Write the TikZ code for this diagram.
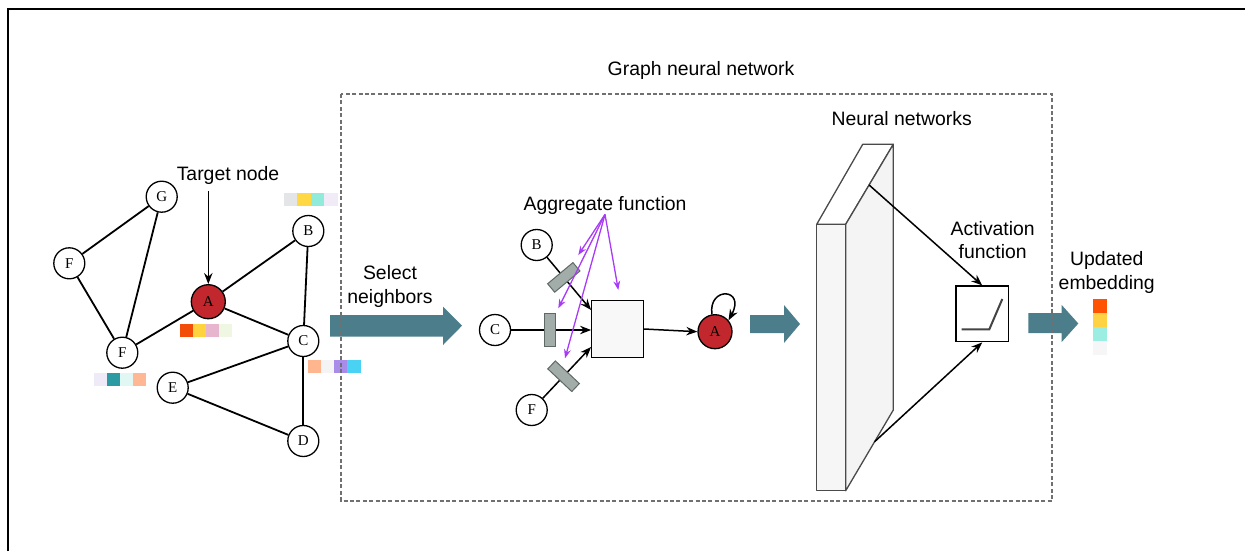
\documentclass[tikz,border=0pt]{standalone}
\usepackage{fontspec}
\setmainfont{Liberation Sans}
\newfontfamily\letterfont{Liberation Serif}
\usetikzlibrary{arrows.meta,calc}

\definecolor{nodered}{HTML}{C1272D}
\definecolor{arrowteal}{HTML}{4B7D8B}
\definecolor{weightfill}{HTML}{A2ACA8}
\definecolor{weightedge}{HTML}{5F6A66}
\definecolor{aggviolet}{HTML}{A83BF5}
\definecolor{boxfill}{HTML}{F8F8F8}
\definecolor{slabedge}{HTML}{4A4A4A}
\definecolor{slabfront}{HTML}{F6F6F6}
\definecolor{slabside}{HTML}{F4F4F4}
\definecolor{dashgray}{HTML}{707070}
\definecolor{rampgray}{HTML}{444444}
% feature cells
\definecolor{ca1}{HTML}{F24E0A}\definecolor{ca2}{HTML}{FFD33D}\definecolor{ca3}{HTML}{E8B5CE}\definecolor{ca4}{HTML}{EFF7E3}
\definecolor{cb1}{HTML}{E3E5E6}\definecolor{cb2}{HTML}{FFD844}\definecolor{cb3}{HTML}{90EBDA}\definecolor{cb4}{HTML}{F1EBF8}
\definecolor{cf1}{HTML}{EFEAF8}\definecolor{cf2}{HTML}{2C9AA3}\definecolor{cf3}{HTML}{E0F7F4}\definecolor{cf4}{HTML}{FFB893}
\definecolor{cc1}{HTML}{FFB68E}\definecolor{cc2}{HTML}{F4F4F4}\definecolor{cc3}{HTML}{A98CE9}\definecolor{cc4}{HTML}{4AD2F4}
\definecolor{ce1}{HTML}{FF5202}\definecolor{ce2}{HTML}{FFD244}\definecolor{ce3}{HTML}{9DEEE2}\definecolor{ce4}{HTML}{F6F6F6}

\begin{document}
\begin{tikzpicture}[x=0.5pt,y=-0.5pt,
  lbl/.style={font=\fontsize{9.7}{11.8}\selectfont, align=center, inner sep=0pt},
  gnode/.style={circle, draw=black, line width=0.65pt, fill=white, minimum size=15.5pt,
    inner sep=0pt, font=\letterfont\fontsize{7.5}{8}\selectfont},
  target/.style={gnode, fill=nodered, minimum size=17pt},
  link/.style={line width=0.9pt},
  arr/.style={line width=0.75pt, -{Stealth[length=5.5pt,width=4.2pt]}},
  purp/.style={draw=aggviolet, line width=0.65pt, -{Stealth[length=4.5pt,width=3.4pt]}},
  weight/.style={rectangle, draw=weightedge, fill=weightfill, line width=0.5pt,
    minimum width=5.5pt, minimum height=16.5pt, inner sep=0pt, sloped},
  slab/.style={draw=slabedge, line width=0.65pt, line join=round},
  bigarrow/.style={fill=arrowteal},
]
\useasboundingbox (0,0) rectangle (1245,551);

% outer frame (open on the right and bottom)
\draw[line width=1.15pt] (7.7,551) -- (7.7,9.2) -- (1245,9.2);

% ---------- input graph ----------
\node[gnode]  (G)  at (161.7,196.7) {G};
\node[gnode]  (F1) at (69.3,263.3)  {F};
\node[gnode]  (F2) at (122.3,352.7) {F};
\node[target] (A)  at (208.3,301.7) {A};
\node[gnode]  (B)  at (308.3,231)   {B};
\node[gnode]  (C)  at (303.3,341)   {C};
\node[gnode]  (E)  at (172.7,387.7) {E};
\node[gnode]  (D)  at (303.3,441)   {D};

\draw[link] (G) -- (F1);
\draw[link] (G) -- (F2);
\draw[link] (F1) -- (F2);
\draw[link] (F2) -- (A);
\draw[link] (A) -- (B);
\draw[link] (A) -- (C);
\draw[link] (B) -- (C);
\draw[link] (C) -- (E);
\draw[link] (E) -- (D);
\draw[link] (C) -- (D);

\node[lbl] (tn) at (228,175) {Target node};
\coordinate (tgt) at (208.3,191);
\draw[arr] (tgt) -- (A.north);

% feature vectors beside the nodes
\foreach \c [count=\i from 0] in {ca1,ca2,ca3,ca4}
  \fill[\c] (180+\i*13,323.5) rectangle +(13,13);
\foreach \c [count=\i from 0] in {cb1,cb2,cb3,cb4}
  \fill[\c] (284+\i*13.4,192.8) rectangle +(13.4,13);
\foreach \c [count=\i from 0] in {cf1,cf2,cf3,cf4}
  \fill[\c] (94+\i*13,372.8) rectangle +(13,13);
\foreach \c [count=\i from 0] in {cc1,cc2,cc3,cc4}
  \fill[\c] (307.7+\i*13.25,359.5) rectangle +(13.25,13);

% ---------- select neighbours ----------
\node[lbl] (sel) at (390,286.5) {Select\\neighbors};
\fill[bigarrow] (330,315) -- (443,315) -- (443,306.7) -- (462,325.7) -- (443,345)
  -- (443,336.7) -- (330,336.7) -- cycle;

% ---------- aggregation ----------
\node[lbl] (agg) at (605,205) {Aggregate function};
\node[gnode] (Bs) at (536.7,245) {B};
\node[gnode] (Cs) at (495,330)   {C};
\node[gnode] (Fs) at (531.7,410) {F};
\node[rectangle, draw=black, line width=0.6pt, fill=boxfill, minimum width=25.8pt,
  minimum height=28.3pt, inner sep=0pt] (box) at (617.5,329) {};
\node[target] (As) at (715,331.7) {A};

\draw[arr] (Bs) -- node[weight, pos=0.38] {} ([shift={(0,-19)}]box.west);
\draw[arr] (Cs) -- node[weight, pos=0.48] {} ([shift={(0,1)}]box.west);
\draw[arr] (Fs) -- node[weight, pos=0.43] {} ([shift={(0,18)}]box.west);
\draw[arr] (box.east) -- (As.west);
\draw[arr] (As.100) .. controls (708,286) and (746,288) .. (As.40);

\coordinate (p1) at (578.3,255);
\coordinate (p2) at (558.3,308.3);
\coordinate (p3) at (565,358.3);
\coordinate (p4) at (618.3,290);
\foreach \p in {p1,p2,p3,p4}
  \draw[purp] (agg.south) -- (\p);

\fill[bigarrow] (750,315) -- (784,315) -- (784,305) -- (800,324) -- (784,343)
  -- (784,333) -- (750,333) -- cycle;

% ---------- neural network layer ----------
\node[lbl] (nn) at (901.7,118.3) {Neural networks};
\filldraw[slab, fill=slabfront] (816.7,224.3) rectangle (845.7,490.7);
\filldraw[slab, fill=white] (816.7,224.3) -- (862.7,144.3) -- (893.3,144.3)
  -- (845.7,224.3) -- cycle;
\filldraw[slab, fill=slabside] (845.7,224.3) -- (893.3,144.3) -- (893.3,410)
  -- (845.7,490.7) -- cycle;
\coordinate (s1) at (869.1,185);
\coordinate (s2) at (874.6,441.7);

\node[lbl] (actlbl) at (992.7,240) {Activation\\function};
\node[rectangle, draw=black, line width=0.6pt, fill=white, minimum width=26.2pt,
  minimum height=27.9pt, inner sep=0pt] (act) at (982.2,313.9) {};
\draw[rampgray, line width=1pt] (961.7,329.3) -- (989.3,329.3) -- (1002.3,299);
\draw[arr] (s1) -- (act.north);
\draw[arr] (s2) -- (act.south);

\fill[bigarrow] (1028.3,313) -- (1061.7,313) -- (1061.7,305) -- (1078.3,323.5)
  -- (1061.7,342) -- (1061.7,333) -- (1028.3,333) -- cycle;

% ---------- output ----------
\node[lbl] (upd) at (1106.7,272.5) {Updated\\embedding};
\foreach \c [count=\i from 0] in {ce1,ce2,ce3,ce4}
  \fill[\c] (1093.3,299.3+\i*14) rectangle +(13.4,14);

% ---------- GNN frame ----------
\node[lbl] (gnn) at (701,70) {Graph neural network};
\draw[dashgray, line width=0.6pt, dash pattern=on 2pt off 1.2pt] (341,94) rectangle (1052,501);
\end{tikzpicture}
\end{document}
